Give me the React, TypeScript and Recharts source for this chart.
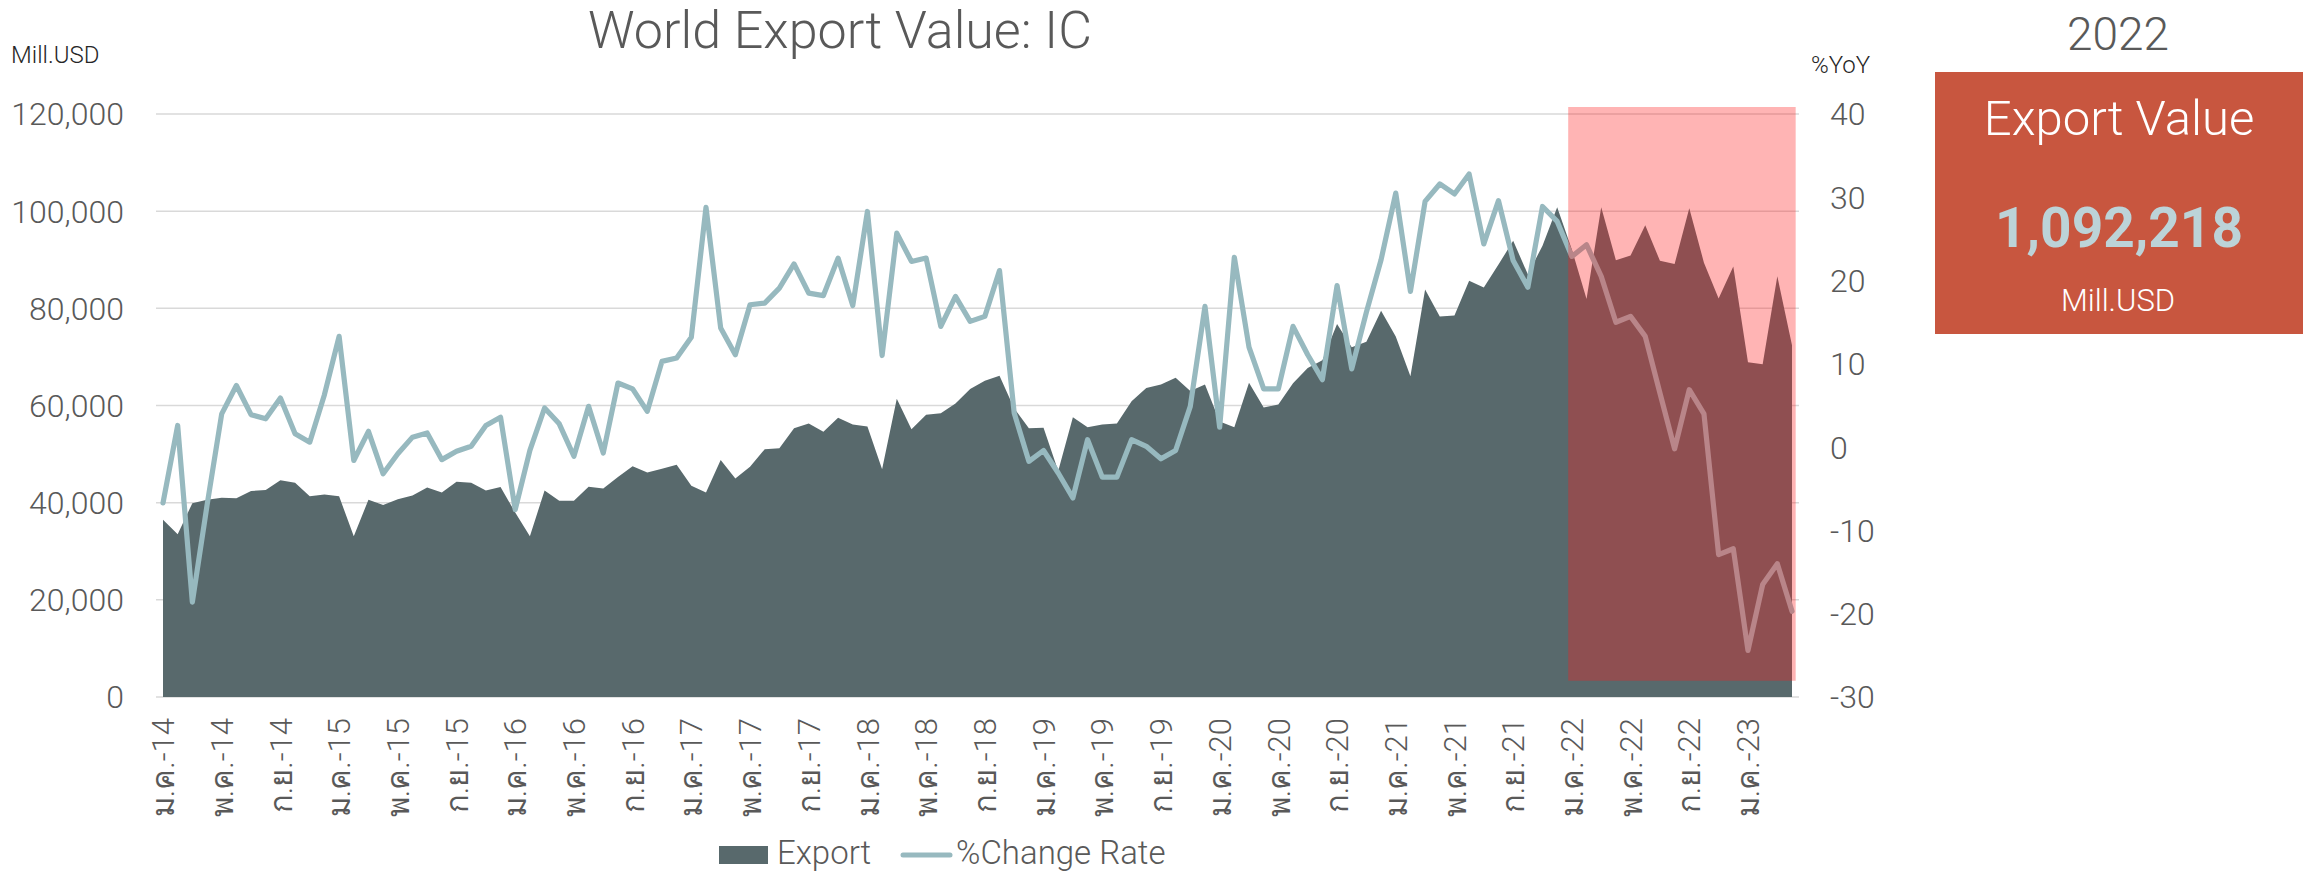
import React from 'react';
import { ComposedChart, Area, Line, XAxis, YAxis, CartesianGrid, ReferenceArea } from 'recharts';

// ---- Data (Jan 2014 .. Apr 2023, monthly) ----
const THAI_MONTHS = ['ม.ค.', 'ก.พ.', 'มี.ค.', 'เม.ย.', 'พ.ค.', 'มิ.ย.', 'ก.ค.', 'ส.ค.', 'ก.ย.', 'ต.ค.', 'พ.ย.', 'ธ.ค.'];
const YEARS = ['14', '15', '16', '17', '18', '19', '20', '21', '22', '23'];

const exportValues = [
  36500, 33500, 39900, 40600, 41000, 40900, 42400, 42600, 44600, 44100, 41300, 41700,
  41300, 33100, 40600, 39500, 40700, 41500, 43100, 42100, 44300, 44100, 42500, 43200,
  38000, 33100, 42500, 40400, 40400, 43300, 42900, 45300, 47500, 46200, 47000, 47800,
  43500, 42100, 48800, 45000, 47400, 51000, 51200, 55300, 56300, 54600, 57500, 56100,
  55700, 46900, 61400, 55100, 58100, 58400, 60400, 63400, 65100, 66100, 59400, 55300,
  55400, 46500, 57600, 55500, 56100, 56300, 60900, 63600, 64300, 65700, 63000, 64300,
  56700, 55500, 64700, 59600, 60200, 64600, 67700, 69300, 76800, 72000, 73100, 79500,
  74200, 66000, 83900, 78300, 78500, 85700, 84300, 89000, 93900, 87000, 92900, 100800,
  92100, 81900, 100800, 89900, 90900, 97100, 89800, 89100, 100600, 89400, 82000, 88600,
  68900, 68500, 86600, 72400,
];

const changeRate = [
  -6.7, 2.6, -18.6, -7.0, 4.0, 7.4, 3.9, 3.4, 5.9, 1.6, 0.6, 6.3,
  13.3, -1.6, 1.9, -3.2, -0.8, 1.2, 1.7, -1.5, -0.5, 0.1, 2.6, 3.6,
  -7.5, -0.4, 4.7, 2.8, -1.1, 4.9, -0.7, 7.7, 7.0, 4.3, 10.3, 10.7,
  13.2, 28.8, 14.3, 11.1, 17.1, 17.3, 19.1, 22.0, 18.5, 18.2, 22.7, 17.0,
  28.3, 11.0, 25.7, 22.3, 22.7, 14.5, 18.1, 15.1, 15.7, 21.2, 4.1, -1.7,
  -0.4, -3.1, -6.1, 0.9, -3.6, -3.6, 0.9, 0.1, -1.4, -0.4, 4.9, 16.9,
  2.4, 22.8, 12.0, 7.0, 7.0, 14.5, 11.1, 8.1, 19.4, 9.4, 16.2, 22.5,
  30.5, 18.7, 29.5, 31.6, 30.4, 32.8, 24.4, 29.6, 22.4, 19.2, 28.9, 27.1,
  22.9, 24.3, 20.5, 15.0, 15.7, 13.3, 6.5, -0.2, 6.9, 4.0, -12.9, -12.2,
  -24.4, -16.5, -14.0, -19.7,
];

const leftTicks = [0, 20000, 40000, 60000, 80000, 100000, 120000];
const rightTicks = [-30, -20, -10, 0, 10, 20, 30, 40];
const xTicks = [0, 4, 8, 12, 16, 20, 24, 28, 32, 36, 40, 44, 48, 52, 56, 60, 64, 68, 72, 76, 80, 84, 88, 92, 96, 100, 104, 108];

const monthLabels = exportValues.map((_, i) => `${THAI_MONTHS[i % 12]}-${YEARS[Math.floor(i / 12)]}`);

const data = exportValues.map((v, i) => ({
  i,
  month: monthLabels[i],
  export: v,
  change: changeRate[i],
}));

// highlighted period (2022 onwards), in axis units
const HL_X1 = 95.75;
const HL_X2 = 111.25;
const HL_Y1 = -28.05;
const HL_Y2 = 40.85;

const TOTAL_2022 = '1,092,218';

const FONT = "Roboto, 'Noto Sans', 'DejaVu Sans', sans-serif";
const TEXT = '#595959';
const AREA_COLOR = '#58696c';
const LINE_COLOR = '#97b9bf';

const XTick = (props: any) => {
  const { x, y, payload } = props;
  return (
    <text
      x={x}
      y={y}
      dy="0.36em"
      transform={`rotate(-90 ${x} ${y})`}
      textAnchor="end"
      fontSize={31}
      fontWeight={300}
      fontFamily={FONT}
      fill={TEXT}
    >
      {monthLabels[payload.value]}
    </text>
  );
};

export default function App() {
  return (
    <div style={{ position: 'absolute', left: 0, top: 0, width: 2303, height: 872, background: '#fff', fontFamily: FONT }}>
      <ComposedChart
        width={2303}
        height={872}
        data={data}
        margin={{ top: 114, right: 404, bottom: 55, left: 0 }}
      >
        <CartesianGrid yAxisId="left" vertical={false} stroke="#d9d9d9" strokeWidth={1.5} />
        <XAxis
          dataKey="i"
          type="number"
          domain={[0, 111]}
          ticks={xTicks}
          interval={0}
          padding={{ left: 7, right: 7 }}
          axisLine={false}
          tickLine={false}
          tickMargin={15}
          height={120}
          tick={<XTick />}
        />
        <YAxis
          yAxisId="left"
          orientation="left"
          domain={[0, 120000]}
          ticks={leftTicks}
          interval={0}
          width={156}
          axisLine={false}
          tickLine={false}
          tickMargin={26}
          tickFormatter={(v: number) => v.toLocaleString('en-US')}
          tick={{ fill: TEXT, fontSize: 32, fontWeight: 300, fontFamily: FONT }}
        />
        <YAxis
          yAxisId="right"
          orientation="right"
          domain={[-30, 40]}
          ticks={rightTicks}
          interval={0}
          width={100}
          axisLine={false}
          tickLine={false}
          tickMargin={25}
          tick={{ fill: TEXT, fontSize: 32, fontWeight: 300, fontFamily: FONT, textAnchor: 'start' }}
        />
        <Area
          yAxisId="left"
          dataKey="export"
          type="linear"
          stroke="none"
          fill={AREA_COLOR}
          fillOpacity={1}
          isAnimationActive={false}
          dot={false}
          activeDot={false}
        />
        <Line
          yAxisId="right"
          dataKey="change"
          type="linear"
          stroke={LINE_COLOR}
          strokeWidth={5.2}
          strokeLinejoin="round"
          strokeLinecap="round"
          dot={false}
          activeDot={false}
          isAnimationActive={false}
        />
        <ReferenceArea
          yAxisId="right"
          x1={HL_X1}
          x2={HL_X2}
          y1={HL_Y1}
          y2={HL_Y2}
          ifOverflow="visible"
          fill="#ff1a1a"
          fillOpacity={0.33}
          stroke="none"
          zIndex={1500}
        />
      </ComposedChart>

      <svg
        width={2303}
        height={872}
        style={{ position: 'absolute', left: 0, top: 0, pointerEvents: 'none' }}
        fontFamily={FONT}
      >
        <text x={840} y={48} textAnchor="middle" fontSize={52} fontWeight={300} fill={TEXT}>
          World Export Value: IC
        </text>
        <text x={11} y={63} fontSize={24} fontWeight={300} fill="#262626">Mill.USD</text>
        <text x={1811} y={73} fontSize={24} fontWeight={300} fill="#262626">%YoY</text>

        {/* legend */}
        <rect x={719} y={846} width={49} height={18} fill={AREA_COLOR} />
        <text x={777} y={864} fontSize={33} fontWeight={300} fill={TEXT}>Export</text>
        <line x1={903} y1={855} x2={950} y2={855} stroke={LINE_COLOR} strokeWidth={5} strokeLinecap="round" />
        <text x={956} y={864} fontSize={33} fontWeight={300} fill={TEXT}>%Change Rate</text>

        {/* 2022 panel */}
        <text x={2118} y={50} textAnchor="middle" fontSize={46} fontWeight={300} fill={TEXT}>2022</text>
        <rect x={1935} y={72} width={368} height={262} fill="#c8563f" />
        <text x={2119} y={135} textAnchor="middle" fontSize={49} fontWeight={300} fill="#ffffff">Export Value</text>
        <text x={2119} y={247} textAnchor="middle" fontSize={55} fontWeight={700} fill="#bcd3d8">{TOTAL_2022}</text>
        <text x={2118} y={311} textAnchor="middle" fontSize={31} fontWeight={300} fill="#ffffff">Mill.USD</text>
      </svg>
    </div>
  );
}
